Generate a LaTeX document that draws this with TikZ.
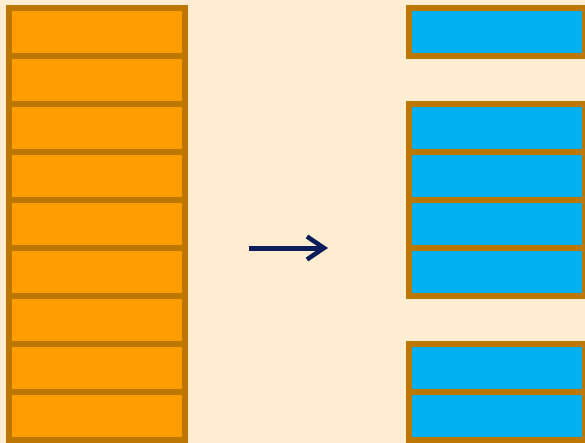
\documentclass[tikz,border=0pt]{standalone}
\usetikzlibrary{arrows.meta}
\definecolor{bg}{HTML}{FFECD1}
\definecolor{cellorange}{HTML}{FF9C00}
\definecolor{cellblue}{HTML}{00B0F0}
\definecolor{cellborder}{HTML}{BD7600}
\definecolor{navy}{HTML}{0B1D5A}
\begin{document}
\begin{tikzpicture}[x=1pt,y=-1pt,
  cell/.style={draw=cellborder,line width=5.5pt,rectangle,minimum width=176pt,
    minimum height=48pt,inner sep=0pt,outer sep=0pt,anchor=north west},
  srccell/.style={cell,fill=cellorange},
  dstcell/.style={cell,fill=cellblue},
  flow/.style={draw=navy,line width=5pt,-{Straight Barb[length=17pt,width=23pt,line width=4.5pt]}}]
  \fill[bg] (0,0) rectangle (585,443);
  \useasboundingbox (0,0) rectangle (585,443);
  % source column: nine consecutive cells
  \foreach \i in {0,...,8}
    \node[srccell] (s\i) at (9,8+48*\i) {};
  % destination column: only the kept cells
  \foreach \i in {0,2,3,4,5,7,8}
    \node[dstcell] (d\i) at (409,8+48*\i) {};
  % transformation arrow
  \coordinate (from) at (249,248);
  \coordinate (to) at (328,248);
  \draw[flow] (from) -- (to);
\end{tikzpicture}
\end{document}
